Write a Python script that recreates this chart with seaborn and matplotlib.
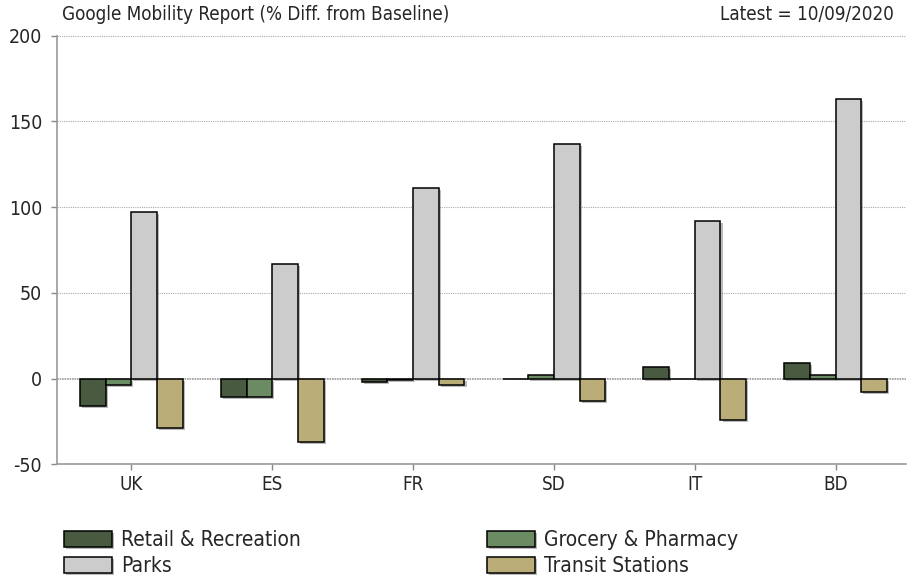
import numpy as np
import pandas as pd
import matplotlib
matplotlib.use("Agg")
from matplotlib import pyplot as plt
import matplotlib.patheffects as pe
import seaborn as sns

countries = ["UK", "ES", "FR", "SD", "IT", "BD"]
categories = ["Retail & Recreation", "Grocery & Pharmacy", "Parks", "Transit Stations"]
retail = [-16, -11, -2, 0, 7, 9]
grocery = [-4, -11, -1, 2, 0, 2]
parks = [97, 67, 111, 137, 92, 163]
transit = [-29, -37, -4, -13, -24, -8]
colors = ["#485a40", "#6b8c62", "#cccccc", "#bbad78"]

yticks = [-50, 0, 50, 100, 150, 200]

# long format table for seaborn
rows = []
for cat, vals in zip(categories, [retail, grocery, parks, transit]):
    for c, v in zip(countries, vals):
        rows.append({"country": c, "category": cat, "value": v})
df = pd.DataFrame(rows)

sns.set_style("white")
plt.rcParams["font.family"] = ["DejaVu Sans"]
plt.rcParams["font.stretch"] = "condensed"

fig = plt.figure(figsize=(9.08, 5.81), dpi=100)
ax = fig.add_axes([0.0633, 0.2009, 0.9345, 0.7377])

sns.barplot(data=df, x="country", y="value", hue="category", order=countries,
            hue_order=categories, palette=colors, width=0.73, gap=0,
            edgecolor="black", linewidth=1.1, saturation=1, ax=ax, legend=True)

# soft drop shadow like the original
for p in ax.patches:
    p.set_path_effects([pe.SimplePatchShadow(offset=(1.5, -1.5), shadow_rgbFace="#666666", alpha=0.45),
                        pe.Normal()])

ax.set_ylim(-50, 200)
ax.set_xlim(-0.525, 5.5)
ax.set_yticks(yticks)
ax.set_yticklabels([str(t) for t in yticks], fontsize=14)
ax.tick_params(axis="x", labelsize=13.5, length=4, width=1, color="#888888", pad=4, direction="out", bottom=True)
ax.tick_params(axis="y", length=4, width=1, color="#888888", pad=7, direction="out", left=True)
ax.set_xlabel("")
ax.set_ylabel("")

for y in [50, 100, 150, 200]:
    ax.axhline(y, color="#aaaaaa", linestyle=(0, (1, 1)), linewidth=0.8, zorder=0)
ax.axhline(0, color="#999999", linestyle=(0, (1, 0.5)), linewidth=1.2, zorder=0.5)

for s in ["top", "right"]:
    ax.spines[s].set_visible(False)
for s in ["left", "bottom"]:
    ax.spines[s].set_color("#999999")
    ax.spines[s].set_linewidth(1.2)

# legend fills row by row in the reference
handles, labels = ax.get_legend_handles_labels()
order = [0, 2, 1, 3]
ax.legend([handles[i] for i in order], [labels[i] for i in order], ncol=2,
          loc="upper left", bbox_to_anchor=(0.0705, 0.0878),
          bbox_transform=fig.transFigure, frameon=False, fontsize=15,
          handlelength=2.3, handleheight=0.82, handletextpad=0.45,
          columnspacing=8.92, labelspacing=0.31, borderaxespad=0, borderpad=0)

fig.text(0.068, 0.975, "Google Mobility Report (% Diff. from Baseline)", fontsize=13.5, va="center", ha="left")
fig.text(0.984, 0.975, "Latest = 10/09/2020", fontsize=13.5, va="center", ha="right")

fig.savefig("out.png", dpi=100)
